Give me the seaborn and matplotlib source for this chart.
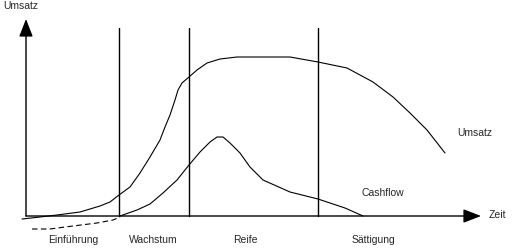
import matplotlib
matplotlib.use("Agg")
import matplotlib.pyplot as plt
import seaborn as sns
import pandas as pd

sns.set_theme(style="white")
plt.rcParams['font.family'] = ['Liberation Sans', 'DejaVu Sans']

# Umsatz (sales) curve: time vs value
umsatz_t = [-4, 14, 31, 54, 74, 84, 93, 104, 114, 124, 134, 139, 144, 149, 152, 156, 163, 171, 181, 194, 211,
            264, 292, 321, 347, 367, 384, 401, 419]
umsatz_v = [-3, -1, 1, 4, 10, 14, 21, 29, 43, 59, 76, 89, 101, 116, 126, 133, 139, 146, 153, 157, 159,
            159, 154, 148, 134, 119, 103, 86, 63]

# Cashflow curve (positive part)
cash_t = [94, 111, 124, 137, 151, 163, 174, 184, 191, 197, 204, 214, 224, 237, 264, 292, 319, 337]
cash_v = [0, 6, 12, 23, 36, 51, 64, 74, 79, 79, 73, 63, 49, 36, 24, 17, 8, 0]

# Cashflow negative part (dashed)
cash_neg_t = [6, 24, 39, 71, 87, 94]
cash_neg_v = [-13, -13, -11, -7, -4, -1]

# Phase boundaries and labels
phase_bounds = [93, 163, 292]
phase_labels = ["Einführung", "Wachstum", "Reife", "Sättigung"]
phase_label_t = [47, 127, 219, 347]

fig = plt.figure(figsize=(5.12, 2.49), dpi=100)
ax = fig.add_axes([0, 0, 1, 1])
ax.set_xlim(-26, 486)
ax.set_ylim(-33, 216)
ax.axis("off")

df_u = pd.DataFrame({"t": umsatz_t, "v": umsatz_v})
df_c = pd.DataFrame({"t": cash_t, "v": cash_v})
df_n = pd.DataFrame({"t": cash_neg_t, "v": cash_neg_v})
sns.lineplot(data=df_u, x="t", y="v", ax=ax, color="black", lw=0.8, sort=False, estimator=None)
sns.lineplot(data=df_c, x="t", y="v", ax=ax, color="black", lw=0.8, sort=False, estimator=None)
sns.lineplot(data=df_n, x="t", y="v", ax=ax, color="black", lw=0.8, sort=False, estimator=None,
             linestyle=(0, (5, 3)))

# phase boundaries
for b in phase_bounds:
    ax.plot([b, b], [0, 188], color="black", lw=1.0)

# axes with arrows
ax.annotate("", xy=(0, 197), xytext=(0, 0),
            arrowprops=dict(arrowstyle="-|>,head_length=0.9,head_width=0.35", color="black", lw=1.0, shrinkA=0, shrinkB=0))
ax.annotate("", xy=(455, 0), xytext=(0, 0),
            arrowprops=dict(arrowstyle="-|>,head_length=0.9,head_width=0.35", color="black", lw=1.0, shrinkA=0, shrinkB=0))

fs = 7.5
ax.text(-23, 210, "Umsatz", fontsize=fs, ha="left", va="center")
ax.text(463, 1, "Zeit", fontsize=fs, ha="left", va="center")
ax.text(431, 83, "Umsatz", fontsize=fs, ha="left", va="center")
ax.text(336, 23, "Cashflow", fontsize=fs, ha="left", va="center")
for lbl, t in zip(phase_labels, phase_label_t):
    ax.text(t, -24, lbl, fontsize=fs, ha="center", va="center")

fig.savefig("out.png", dpi=100)
